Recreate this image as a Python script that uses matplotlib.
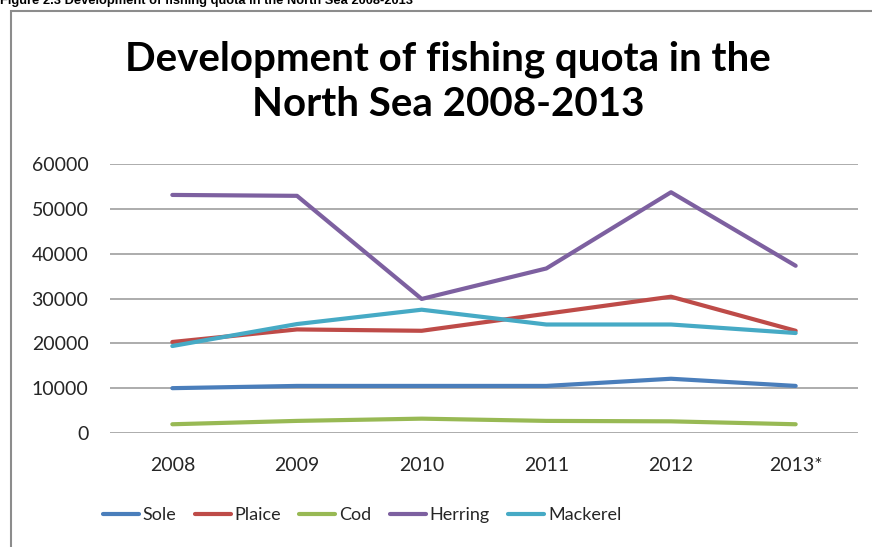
import matplotlib
matplotlib.use("Agg")
import matplotlib.pyplot as plt
from matplotlib.patches import Rectangle

years = ["2008", "2009", "2010", "2011", "2012", "2013*"]
sole = [10000, 10500, 10500, 10500, 12100, 10500]
plaice = [20300, 23100, 22800, 26600, 30400, 22800]
cod = [1950, 2700, 3200, 2700, 2600, 1950]
herring = [53100, 52900, 29900, 36700, 53700, 37300]
mackerel = [19400, 24300, 27500, 24200, 24200, 22300]

series = [("Sole", sole, "#4a7ebb"),
          ("Plaice", plaice, "#be4b48"),
          ("Cod", cod, "#98b954"),
          ("Herring", herring, "#7d60a0"),
          ("Mackerel", mackerel, "#46aac5")]

W, H = 872, 547
fig = plt.figure(figsize=(W / 100, H / 100), dpi=100)

# page caption, cut off at the top edge
fig.text(0, 1 - 4 / H, "Figure 2.3 Development of fishing quota in the North Sea 2008-2013",
         family="Liberation Sans", weight="bold", fontsize=9.3, va="baseline", ha="left")

# chart frame, runs off the right and bottom edges
fig.patches.append(Rectangle((10.5 / W, -0.1), 1.0, 1 - 10.5 / H + 0.1,
                             transform=fig.transFigure, fill=False,
                             edgecolor="#8c8c8c", linewidth=1.5))

tfont = dict(family="Lato", weight="bold", fontsize=29, ha="center", va="baseline",
             color="black")
fig.text(448 / W, 1 - 70 / H, "Development of fishing quota in the", **tfont)
fig.text(448 / W, 1 - 116 / H, "North Sea 2008-2013", **tfont)

ax = fig.add_axes([110 / W, (H - 433) / H, (858 - 110) / W, (433 - 164) / H])
x = list(range(len(years)))
for name, vals, col in series:
    ax.plot(x, vals, color=col, linewidth=3, label=name, solid_capstyle="round",
            solid_joinstyle="round", zorder=3)

ax.set_xlim(-0.5, len(years) - 0.5)
ax.set_ylim(0, 60000)
ax.set_yticks(range(0, 60001, 10000))
ax.set_xticks(x)
ax.set_xticklabels(years)
ax.grid(axis="y", color="#a6a6a6", linewidth=1.3)
ax.set_axisbelow(True)
for s in ax.spines.values():
    s.set_visible(False)
ax.tick_params(length=0, labelsize=14, labelcolor="#262626")
ax.tick_params(axis="y", pad=15.5)
ax.tick_params(axis="x", pad=17)
for lab in ax.get_xticklabels() + ax.get_yticklabels():
    lab.set_family("Lato")

leg = fig.legend(loc="center", bbox_to_anchor=(362 / W, 1 - 515 / H), ncol=5,
                 frameon=False, handlelength=2.0, handletextpad=0.22,
                 columnspacing=1.0, prop=dict(family="Lato", size=13))
for t in leg.get_texts():
    t.set_color("#262626")

fig.savefig("out.png", dpi=100)
